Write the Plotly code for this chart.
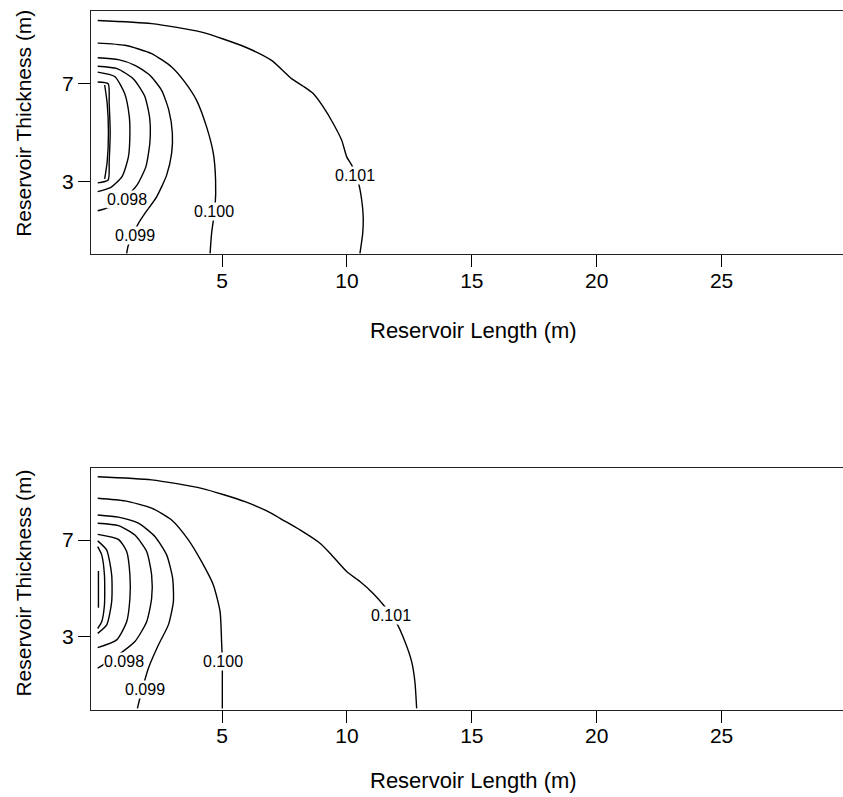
import plotly.graph_objects as go

# ---------------- data: contour lines (x = length m, y = thickness m) ----------------
# Upper panel
top_101_x = [0.02, 2.18, 4.18, 5.92, 6.98, 7.78, 8.25, 8.65, 9.05, 9.45, 9.79, 9.99, 10.19, 10.45, 10.59, 10.65, 10.63, 10.52]
top_101_y = [9.60, 9.47, 9.12, 8.51, 7.96, 7.21, 6.90, 6.60, 6.05, 5.37, 4.68, 4.00, 3.66, 2.98, 2.23, 1.54, 0.86, 0.04]
top_100_x = [0.02, 1.11, 2.18, 2.98, 3.51, 3.98, 4.38, 4.65, 4.74, 4.72, 4.58, 4.52]
top_100_y = [8.67, 8.58, 8.24, 7.69, 7.07, 6.32, 5.23, 4.14, 3.05, 1.95, 0.86, 0.04]
top_099_x = [0.02, 0.85, 1.51, 2.11, 2.58, 2.87, 3.01, 2.98, 2.78, 2.38, 1.91, 1.65, 1.25, 1.18]
top_099_y = [8.07, 7.99, 7.76, 7.35, 6.73, 5.91, 4.96, 4.14, 3.25, 2.36, 1.68, 1.27, 0.38, 0.04]
top_098_x = [0.02, 0.80, 1.45, 1.90, 2.10, 2.11, 1.95, 1.60, 1.10, 0.55, 0.02]
top_098_y = [7.72, 7.62, 7.20, 6.50, 5.60, 4.60, 3.60, 2.85, 2.30, 1.95, 1.79]
top_097_x = [0.02, 0.70, 1.10, 1.28, 1.31, 1.25, 1.00, 0.55, 0.02]
top_097_y = [7.48, 7.30, 6.60, 5.70, 5.00, 4.00, 3.20, 2.75, 2.57]
top_096_x = [0.02, 0.44, 0.48, 0.52, 0.48, 0.44, 0.02]
top_096_y = [7.07, 7.00, 6.20, 5.00, 3.80, 3.05, 2.93]
top_095_x = [0.30, 0.40, 0.45, 0.40, 0.30]
top_095_y = [6.95, 6.20, 5.00, 3.80, 3.10]

# Lower panel
bot_101_x = [0.02, 2.18, 4.18, 5.92, 6.98, 7.32, 8.12, 8.92, 9.32, 9.99, 10.52, 11.05, 11.52, 11.99, 12.32, 12.59, 12.72, 12.79]
bot_101_y = [9.62, 9.49, 9.14, 8.59, 8.11, 7.90, 7.42, 6.87, 6.46, 5.70, 5.29, 4.80, 4.25, 3.57, 2.81, 1.98, 1.15, 0.05]
bot_100_x = [0.02, 1.11, 2.18, 2.98, 3.65, 4.18, 4.65, 4.92, 4.98, 5.01, 5.01, 5.01]
bot_100_y = [8.73, 8.62, 8.32, 7.83, 7.01, 6.11, 5.15, 4.05, 2.81, 1.98, 1.15, 0.05]
bot_099_x = [0.02, 0.85, 1.65, 2.31, 2.78, 3.02, 3.05, 2.85, 2.45, 2.05, 1.71, 1.61]
bot_099_y = [8.04, 7.95, 7.70, 7.15, 6.39, 5.43, 4.46, 3.50, 2.67, 1.71, 0.47, 0.05]
bot_098_x = [0.02, 0.85, 1.51, 1.98, 2.18, 2.18, 1.98, 1.51, 0.85, 0.40, 0.02]
bot_098_y = [7.70, 7.60, 7.21, 6.53, 5.56, 4.60, 3.63, 2.81, 2.26, 1.95, 1.71]
bot_097_x = [0.02, 0.85, 1.18, 1.31, 1.31, 1.18, 0.78, 0.02]
bot_097_y = [7.24, 7.03, 6.53, 5.56, 4.60, 3.63, 2.88, 2.56]
bot_096_x = [0.02, 0.38, 0.58, 0.58, 0.38, 0.02]
bot_096_y = [6.97, 6.59, 5.56, 4.46, 3.50, 3.15]
bot_095_x = [0.02, 0.18, 0.29, 0.29, 0.18, 0.02]
bot_095_y = [6.73, 6.39, 5.56, 4.32, 3.63, 3.35]
bot_094_x = [0.05, 0.05]
bot_094_y = [5.73, 4.21]

# contour label text and anchor positions
top_labels = ["0.101", "0.100", "0.098", "0.099"]
top_label_x = [10.31, 4.66, 1.21, 1.53]
top_label_y = [3.22, 1.75, 2.23, 0.76]
bot_labels = ["0.101", "0.100", "0.098", "0.099"]
bot_label_x = [11.77, 5.04, 1.08, 1.91]
bot_label_y = [3.88, 1.98, 1.98, 0.81]

x_ticks = [5, 10, 15, 20, 25]
y_ticks = [3, 7]
x_title = "Reservoir Length (m)"
y_title = "Reservoir Thickness (m)"

FONT = "Liberation Sans, Arial, sans-serif"
W, H = 843, 797

top_lines = [(top_101_x, top_101_y), (top_100_x, top_100_y), (top_099_x, top_099_y),
             (top_098_x, top_098_y), (top_097_x, top_097_y), (top_096_x, top_096_y),
             (top_095_x, top_095_y)]
bot_lines = [(bot_101_x, bot_101_y), (bot_100_x, bot_100_y), (bot_099_x, bot_099_y),
             (bot_098_x, bot_098_y), (bot_097_x, bot_097_y), (bot_096_x, bot_096_y),
             (bot_095_x, bot_095_y), (bot_094_x, bot_094_y)]

fig = go.Figure()

for xs, ys in top_lines:
    fig.add_trace(go.Scatter(x=xs, y=ys, mode="lines", xaxis="x", yaxis="y",
                             line=dict(color="black", width=1.4, shape="spline", smoothing=0.6),
                             hoverinfo="skip", showlegend=False))
for xs, ys in bot_lines:
    fig.add_trace(go.Scatter(x=xs, y=ys, mode="lines", xaxis="x2", yaxis="y2",
                             line=dict(color="black", width=1.4, shape="spline", smoothing=0.6),
                             hoverinfo="skip", showlegend=False))

annotations = []
for txt, lx, ly in zip(top_labels, top_label_x, top_label_y):
    annotations.append(dict(x=lx, y=ly, xref="x", yref="y", text=txt, showarrow=False,
                            font=dict(family=FONT, size=16, color="black"),
                            bgcolor="white", borderpad=0))
for txt, lx, ly in zip(bot_labels, bot_label_x, bot_label_y):
    annotations.append(dict(x=lx, y=ly, xref="x2", yref="y2", text=txt, showarrow=False,
                            font=dict(family=FONT, size=16, color="black"),
                            bgcolor="white", borderpad=0))

# axis titles (pixel-placed in paper coordinates)
def px_x(p):
    return (p - 91) / (W - 91)

def px_y(p):
    return 1 - p / H

for cy_title, cy_xt in [(123.8, 330.0), (583.6, 780.0)]:
    annotations.append(dict(x=px_x(473), y=px_y(cy_xt), xref="paper", yref="paper",
                            text=x_title, showarrow=False, xanchor="center", yanchor="middle",
                            font=dict(family=FONT, size=22, color="black")))
    annotations.append(dict(x=px_x(24), y=px_y(cy_title), xref="paper", yref="paper",
                            text=y_title, showarrow=False, textangle=-90,
                            xanchor="center", yanchor="middle",
                            font=dict(family=FONT, size=21, color="black")))

xaxis_common = dict(range=[-0.248, 29.86], tickvals=x_ticks, ticks="outside", ticklen=12,
                    tickwidth=1, tickcolor="black", showgrid=False, zeroline=False,
                    showline=True, linecolor="#222", linewidth=1.3, mirror=True,
                    ticklabelstandoff=-5,
                    tickfont=dict(family=FONT, size=21, color="black"))
yaxis_common = dict(range=[0, 10], tickvals=y_ticks, ticks="outside", ticklen=12,
                    tickwidth=1, tickcolor="black", showgrid=False, zeroline=False,
                    showline=True, linecolor="#222", linewidth=1.3, mirror=False,
                    tickfont=dict(family=FONT, size=21, color="black"))

fig.update_layout(
    width=W, height=H,
    margin=dict(l=91, r=0, t=0, b=0),
    paper_bgcolor="white", plot_bgcolor="white",
    xaxis=dict(domain=[0, 1], anchor="y", **xaxis_common),
    yaxis=dict(domain=[1 - 254.3 / H, 1 - 10.7 / H], anchor="x", **yaxis_common),
    xaxis2=dict(domain=[0, 1], anchor="y2", **xaxis_common),
    yaxis2=dict(domain=[1 - 709.6 / H, 1 - 467.5 / H], anchor="x2", **yaxis_common),
    annotations=annotations,
    showlegend=False,
)

fig.write_html("out.html")
